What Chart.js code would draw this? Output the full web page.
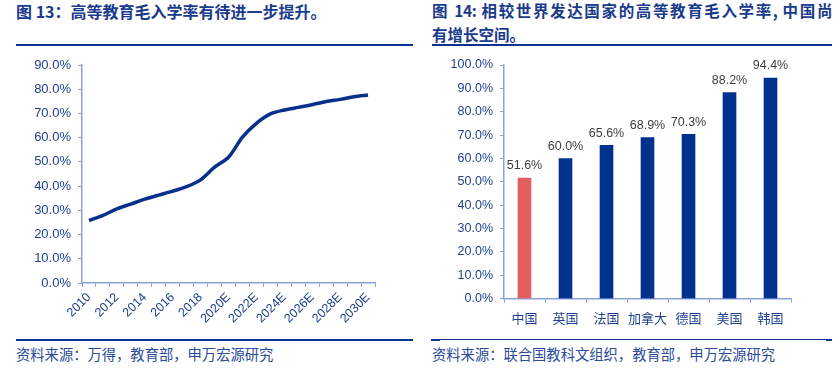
<!DOCTYPE html>
<html><head><meta charset="utf-8">
<script src="https://cdn.jsdelivr.net/npm/chart.js@4"></script>
<style>
body{margin:0;width:837px;height:373px;background:#fff;position:relative;overflow:hidden;font-family:"Noto Sans CJK SC",sans-serif}
.t{position:absolute;font-weight:bold;font-size:15.5px;color:#1a3a8c;white-space:nowrap;line-height:1}
.ln{position:absolute;background:#0b3493}
.src{position:absolute;font-size:14.3px;color:#2a4a9a;white-space:nowrap;line-height:1}
canvas{position:absolute}
</style></head><body>
<div class="t" style="left:16px;top:3px;font-size:16px;letter-spacing:0px">图 13：高等教育毛入学率有待进一步提升。</div>
<div class="t" style="left:432px;top:3px;width:400px;font-size:15.5px;letter-spacing:-0.4px;text-align:justify;text-align-last:justify">图 14: 相较世界发达国家的高等教育毛入学率, 中国尚</div>
<div class="t" style="left:432px;top:27px;font-size:15.5px">有增长空间。</div>
<div class="ln" style="left:16px;top:44px;width:397px;height:2px"></div>
<div class="ln" style="left:432px;top:44px;width:400px;height:2px"></div>

<canvas id="c1" width="400" height="290" style="left:0;top:50px"></canvas>
<canvas id="c2" width="417" height="290" style="left:420px;top:50px"></canvas>

<div class="ln" style="left:16px;top:339px;width:397px;height:2px"></div>
<div class="ln" style="left:431px;top:339px;width:9px;height:2px"></div>
<div class="ln" style="left:440px;top:339px;width:387px;height:1px"></div>
<div class="ln" style="left:826px;top:339px;width:6px;height:2px"></div>
<div class="src" style="left:16px;top:347px">资料来源：万得，教育部，申万宏源研究</div>
<div class="src" style="left:432px;top:347px">资料来源：联合国教科文组织，教育部，申万宏源研究</div>

<script>
const years = ["2010","2011","2012","2013","2014","2015","2016","2017","2018","2019","2020E","2021E","2022E","2023E","2024E","2025E","2026E","2027E","2028E","2029E","2030E"];
const yearShown = ["2010","2012","2014","2016","2018","2020E","2022E","2024E","2026E","2028E","2030E"];
const enrollRate = [25.8,27.9,30.6,32.6,34.6,36.3,37.9,39.8,42.6,47.8,51.9,60.2,65.9,69.8,71.4,72.5,73.6,74.9,75.8,76.9,77.6];
const countries = ["中国","英国","法国","加拿大","德国","美国","韩国"];
const countryRate = [51.6,60.0,65.6,68.9,70.3,88.2,94.4];
const barColors = ["#e35f5f","#00318f","#00318f","#00318f","#00318f","#00318f","#00318f"];

const axisColor = "#8aa2d8";
const tickColor = "#1f3f8f";
const numFont = '"Liberation Sans", Arial, sans-serif';

new Chart(document.getElementById('c1'), {
  type: 'line',
  data: { labels: years, datasets: [{ data: enrollRate, borderColor: '#06308c', borderWidth: 3.5, pointRadius: 0, tension: 0.3, fill: false }] },
  options: {
    responsive: false, animation: false,
    layout: { padding: { left: 0, top: 15, right: 25, bottom: 0 } },
    plugins: { legend: { display: false }, tooltip: { enabled: false } },
    scales: {
      x: {
        offset: true,
        grid: { display: true, offset: true, drawOnChartArea: false, drawTicks: true, tickLength: 4, color: axisColor },
        border: { color: axisColor, width: 1.5 },
        ticks: { autoSkip: false, maxRotation: 45, minRotation: 45, padding: 3, color: tickColor, font: { family: numFont, size: 12.5 },
          callback: function(v, i) { const l = years[i]; return yearShown.includes(l) ? l : ''; } },
        afterFit: s => { s.height = 57; }
      },
      y: {
        min: 0, max: 90,
        grid: { display: true, drawOnChartArea: false, drawTicks: true, tickLength: 4, color: axisColor },
        border: { color: axisColor, width: 1.5 },
        ticks: { stepSize: 10, padding: 7, color: tickColor, font: { family: numFont, size: 13 }, callback: v => v.toFixed(1) + '%' },
        afterFit: s => { s.width = 82; }
      }
    }
  }
});

const valueLabels = {
  id: 'valueLabels',
  afterDatasetsDraw(chart) {
    const ctx = chart.ctx; const meta = chart.getDatasetMeta(0);
    ctx.save();
    ctx.font = '12.5px ' + numFont; ctx.fillStyle = '#404040';
    ctx.textAlign = 'center'; ctx.textBaseline = 'bottom';
    meta.data.forEach((el, i) => { ctx.fillText(countryRate[i].toFixed(1) + '%', el.x, el.y - 6); });
    ctx.restore();
  }
};

new Chart(document.getElementById('c2'), {
  type: 'bar',
  data: { labels: countries, datasets: [{ data: countryRate, backgroundColor: barColors, barThickness: 13 }] },
  options: {
    responsive: false, animation: false,
    layout: { padding: { left: 0, top: 15, right: 46, bottom: 0 } },
    plugins: { legend: { display: false }, tooltip: { enabled: false } },
    scales: {
      x: {
        grid: { display: true, offset: true, drawOnChartArea: false, drawTicks: true, tickLength: 4, color: axisColor },
        border: { color: axisColor, width: 1.5 },
        ticks: { maxRotation: 0, minRotation: 0, autoSkip: false, padding: 8, color: tickColor, font: { family: '"Noto Sans CJK SC", sans-serif', size: 13 } },
        afterFit: s => { s.height = 41.3; }
      },
      y: {
        min: 0, max: 100,
        grid: { display: true, drawOnChartArea: false, drawTicks: true, tickLength: 4, color: axisColor },
        border: { color: axisColor, width: 1.5 },
        ticks: { stepSize: 10, padding: 7, color: tickColor, font: { family: numFont, size: 12.5 }, callback: v => v.toFixed(1) + '%' },
        afterFit: s => { s.width = 84; }
      }
    }
  },
  plugins: [valueLabels]
});
</script>
</body></html>
